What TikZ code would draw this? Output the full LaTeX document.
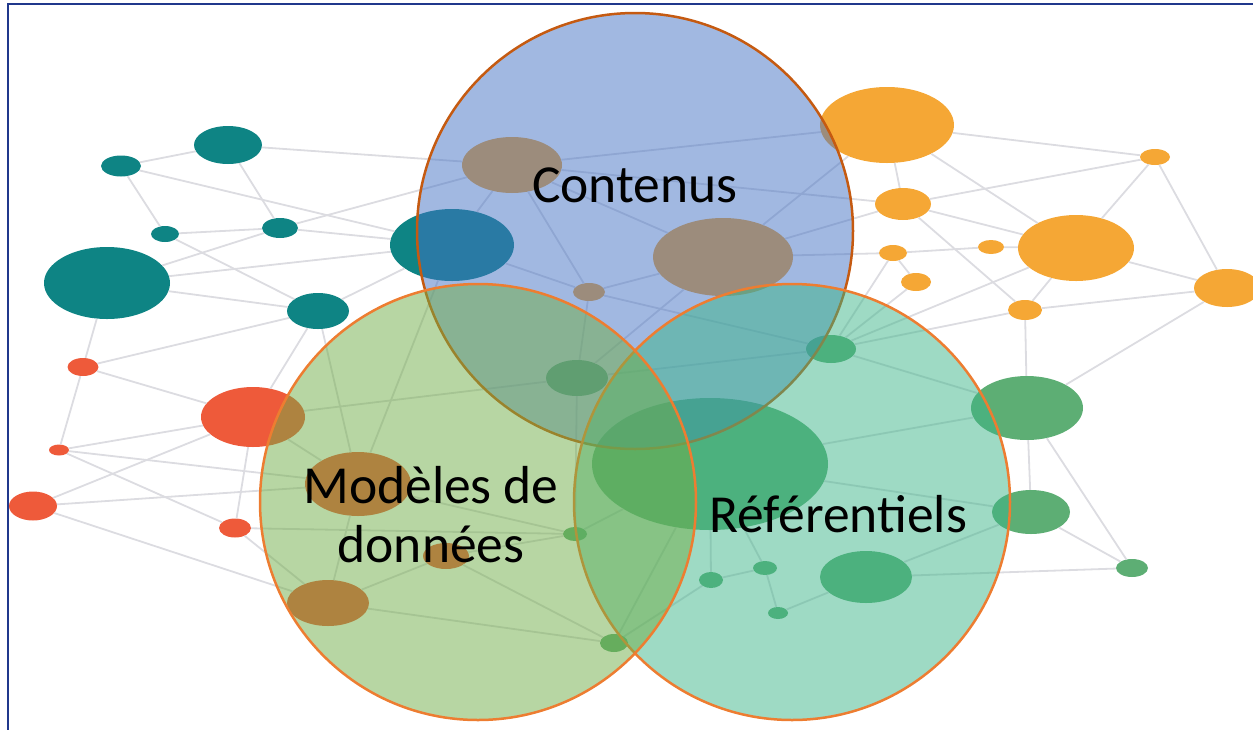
\documentclass[tikz,border=0pt]{standalone}
\usepackage{fontspec}
\setmainfont{Carlito}
\usetikzlibrary{shapes.geometric}
\definecolor{framec}{RGB}{32,56,140}
\definecolor{linkc}{RGB}{220,220,225}
\definecolor{tealc}{RGB}{14,132,132}
\definecolor{redc}{RGB}{238,90,58}
\definecolor{orangec}{RGB}{245,167,53}
\definecolor{greenc}{RGB}{93,174,116}
\definecolor{bluev}{RGB}{68,114,196}
\definecolor{greenv}{RGB}{112,173,71}
\definecolor{mintv}{RGB}{61,181,137}
\definecolor{rimv}{RGB}{237,125,49}
\definecolor{rimdark}{RGB}{197,90,17}

\begin{document}
\begin{tikzpicture}[x=1pt,y=-1pt,
    dot/.style={ellipse,inner sep=0pt,draw=none},
    tdot/.style={dot,fill=tealc}, rdot/.style={dot,fill=redc},
    odot/.style={dot,fill=orangec}, gdot/.style={dot,fill=greenc},
    link/.style={draw=linkc,line width=1.8pt},
    venn/.style={circle,minimum size=436pt,inner sep=0pt,line width=2.5pt,fill opacity=0.5},
    lbl/.style={font=\fontsize{53.5}{59}\selectfont,text=black,inner sep=0pt}]
    \useasboundingbox (0,0) rectangle (1253,729);
    \draw[framec,line width=2pt] (8,4) rectangle (1270,745);

    % network behind the circles
    \foreach \n/\x/\y/\w/\h in {t1/121/166/40/21, t2/228/145/68/38, t3/165/234/28/16,
      t4/280/228/36/20, t5/107/283/126/72, t6/318/311/62/36, t7/452/245/124/72}
      \node[tdot,minimum width=\w pt,minimum height=\h pt] (\n) at (\x,\y) {};
    \foreach \n/\x/\y/\w/\h in {r1/83/367/31/18, r2/253/417/104/60, r3/59/450/20/11,
      r4/33/506/48/29, r5/235/528/32/19, r6/358/484/106/64, r7/328/603/82/46, r8/446/556/46/26}
      \node[rdot,minimum width=\w pt,minimum height=\h pt] (\n) at (\x,\y) {};
    \foreach \n/\x/\y/\w/\h in {o1/887/125/134/76, o2/1155/157/30/16, o3/903/204/56/32,
      o4/1076/248/116/66, o5/893/253/28/16, o6/991/247/26/14, o7/916/282/30/18,
      o8/1227/288/66/38, o9/1025/310/34/20, o10/512/165/100/56, o11/723/257/140/78,
      o12/589/292/32/18}
      \node[odot,minimum width=\w pt,minimum height=\h pt] (\n) at (\x,\y) {};
    \foreach \n/\x/\y/\w/\h in {g1/1027/408/112/64, g2/1031/512/78/44, g3/1132/568/32/18,
      g4/866/577/92/52, g5/831/349/50/28, g6/577/378/62/36, g7/710/464/236/132,
      g8/575/534/24/14, g9/614/643/28/18, g10/711/580/24/16, g11/765/568/24/14,
      g12/778/613/20/12}
      \node[gdot,minimum width=\w pt,minimum height=\h pt] (\n) at (\x,\y) {};

    \path[link]
    (t1) edge (t2) (t1) edge (t3) (t1) edge (t7) (t2) edge (t4) (t2) edge (o10)
    (t3) edge (t4) (t3) edge (t6) (t4) edge (t7) (t4) edge (o10) (t5) edge (t4)
    (t5) edge (t7) (t5) edge (t6) (t5) edge (r1) (t6) edge (r1) (t6) edge (t7)
    (t6) edge (r2) (t6) edge (r6)
    (r1) edge (r2) (r1) edge (r3) (r3) edge (r2) (r3) edge (r6) (r3) edge (r5)
    (r4) edge (r2) (r4) edge (r6) (r4) edge (r7) (r2) edge (r5) (r5) edge (r7)
    (r5) edge (g8) (r2) edge (g6) (r2) edge (r6) (r6) edge (t7) (r6) edge (g8)
    (r6) edge (r7) (r7) edge (r8) (r7) edge (g9) (r8) edge (g9) (r8) edge (g8)
    (o1) edge (o2) (o1) edge (o3) (o1) edge (o4) (o3) edge (o2) (o2) edge (o4)
    (o2) edge (o8) (o3) edge (o4) (o3) edge (o9) (o3) edge (o10) (o3) edge (o11)
    (o5) edge (o6) (o5) edge (o7) (o5) edge (g5) (o6) edge (o4) (o4) edge (o9)
    (o4) edge (o8) (o4) edge (g5) (o9) edge (o8) (o9) edge (g5) (o9) edge (g1)
    (o8) edge (g1) (o7) edge (g5) (o5) edge (o11) (o1) edge (o10) (o10) edge (o12)
    (o10) edge (t7) (t7) edge (o12) (o12) edge (g5) (o12) edge (o11) (o10) edge (o11)
    (o11) edge (o1)
    (g5) edge (g1) (g7) edge (g1) (g7) edge (g2) (g4) edge (g2) (g4) edge (g3)
    (g1) edge (g2) (g1) edge (g3) (g2) edge (g3) (g8) edge (g6) (g6) edge (o12)
    (g6) edge (g5) (g9) edge (g7) (g10) edge (g11) (g11) edge (g12) (g10) edge (g9)
    (g10) edge (g7) (g11) edge (g7) (g12) edge (g4) (g7) edge (g8) (g6) edge (o11);

    % the three sets
    \node[venn,fill=bluev,draw=rimdark] (contenus) at (635,231) {};
    \node[venn,fill=mintv,draw=rimv] (referentiels) at (792,502) {};
    \node[venn,fill=greenv,draw=rimv] (modeles) at (478,502) {};

    \node[lbl,anchor=base] (lcont) at (635,202) {Contenus};
    \node[lbl,anchor=base,align=center] (lmod) at (431,562) {Modèles de\\données};
    \node[lbl,anchor=base] (lref) at (838,532) {Référentiels};
\end{tikzpicture}
\end{document}
